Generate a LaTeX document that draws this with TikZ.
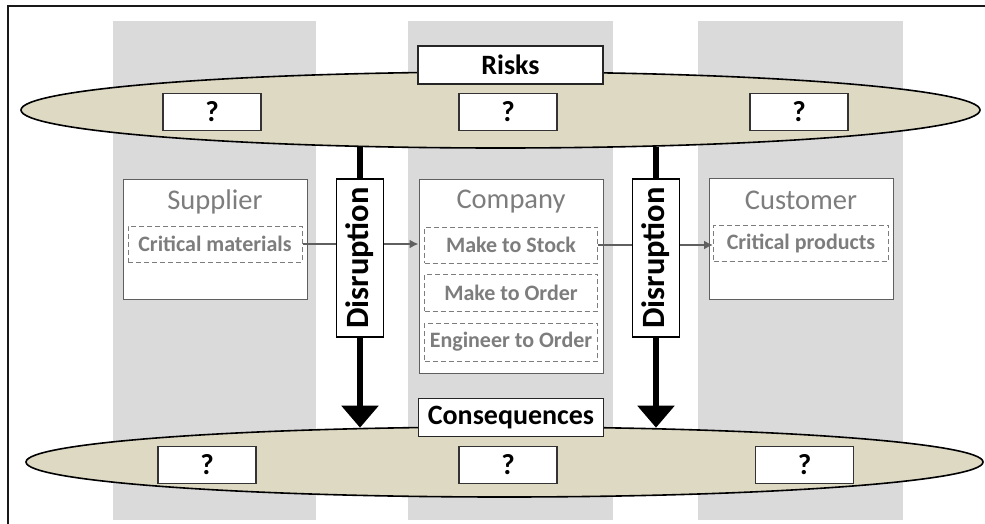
\documentclass[tikz,border=0pt]{standalone}
\usepackage{fontspec}
\setmainfont{Carlito}
\usetikzlibrary{arrows.meta,shapes.geometric,positioning,calc}
\definecolor{lanegray}{RGB}{218,218,218}
\definecolor{zonefill}{RGB}{221,217,195}
\definecolor{textgray}{RGB}{125,125,125}
\definecolor{edgegray}{RGB}{95,95,95}
\tikzset{%
  lane/.style={fill=lanegray,draw=none},
  frame/.style={draw=black!90,line width=1.2pt},
  zone/.style={ellipse,draw=black,line width=1.6pt,fill=zonefill,inner sep=0pt},
  qbox/.style={draw=black!80,line width=1.3pt,fill=white,minimum width=98pt,minimum height=37pt,
    inner sep=0pt,font=\fontsize{29}{30}\selectfont\bfseries},
  tag/.style={draw=black!85,line width=1.6pt,fill=white,minimum width=185pt,minimum height=38pt,
    inner sep=0pt,font=\fontsize{28}{30}\selectfont\bfseries},
  party/.style={draw=edgegray,line width=1pt,fill=white,minimum width=184pt,inner sep=0pt},
  title/.style={text=textgray,inner sep=0pt,font=\fontsize{28.5}{30}\selectfont},
  mode/.style={draw=textgray,dash pattern=on 5pt off 3pt,line width=1pt,minimum width=174pt,
    minimum height=36pt,inner sep=0pt,text=textgray,font=\fontsize{22}{24}\selectfont\bfseries},
  disruption/.style={rotate=90,draw=black,line width=1.2pt,fill=white,minimum width=158pt,
    minimum height=47pt,inner sep=0pt,font=\fontsize{32.5}{34}\selectfont\bfseries},
  disrupt/.style={line width=6pt,-{Triangle[length=22pt,width=36pt]}},
  flow/.style={draw=edgegray,line width=1.8pt,-{Latex[length=9pt,width=9pt]}}
}

\begin{document}
\begin{tikzpicture}[x=1pt,y=-1pt]
	\useasboundingbox (0,0) rectangle (985,524);
	
	% swim lanes and frame
	\foreach \l/\r in {113/316,408/613,698/903}
		\fill[lane] (\l,21) rectangle (\r,520);
	\draw[frame] (8,524) |- (985,6);
	
	\coordinate (gap1) at (360,258);
	\coordinate (gap2) at (656,258);
	
	\node[zone,minimum width=959pt,minimum height=76pt] (risk zone) at (500.5,110) {};
	\node[zone,minimum width=957pt,minimum height=70pt] (consequence zone) at (504.5,462) {};
	
	\draw[disrupt,shorten <=-1.5pt,shorten >=-1.5pt] (gap1 |- risk zone.south) -- (gap1 |- consequence zone.north);
	\draw[disrupt,shorten <=-1.5pt,shorten >=-1.5pt] (gap2 |- risk zone.south) -- (gap2 |- consequence zone.north);
	
	\begin{scope}[every node/.style={qbox}]
	\node (risk 1) at (212,112) {?};
	\node (risk 2) at (508,112) {?};
	\node (risk 3) at (799,112) {?};
	\node (consequence 1) at (207,465) {?};
	\node (consequence 2) at (508,465) {?};
	\node (consequence 3) at (804.5,465) {?};
	\end{scope}
	
	\node[tag] (risks) at (510.5,65) {Risks};
	\node[tag] (consequences) at (511,417.5) {Consequences};
	
	% supply chain parties
	\node[party,minimum height=120pt] (supplier) at (215,239) {};
	\node[party,minimum height=194pt] (company) at (511,276) {};
	\node[party,minimum height=121pt] (customer) at (801,238.5) {};
	
	\node[title] at ([yshift=-23pt] supplier.north) {Supplier};
	\node[title] at ([yshift=-23pt] company.north) {Company};
	\node[title] at ([yshift=-23pt] customer.north) {Customer};
	
	\node[mode,anchor=north] (critical materials) at ([yshift=-47pt] supplier.north) {Critical materials};
	\node[mode,anchor=north,minimum width=173pt] (mts) at ([yshift=-48pt] company.north) {Make to Stock};
	\node[mode,anchor=north,minimum width=173pt,minimum height=37pt] (mto) at ([yshift=-10pt] mts.south) {Make to Order};
	\node[mode,anchor=north,minimum width=173pt,minimum height=38pt] (eto) at ([yshift=-11pt] mto.south) {Engineer to Order};
	\node[mode,anchor=north,minimum width=175pt] (critical products) at ([yshift=-47pt] customer.north) {Critical products};
	
	\draw[flow] (critical materials.east) -- (critical materials.east -| company.west);
	\draw[flow] (mts.east) -- (mts.east -| critical products.west);
	
	\node[disruption] (disruption 1) at (gap1) {Disruption};
	\node[disruption] (disruption 2) at (gap2) {Disruption};
\end{tikzpicture}
\end{document}
